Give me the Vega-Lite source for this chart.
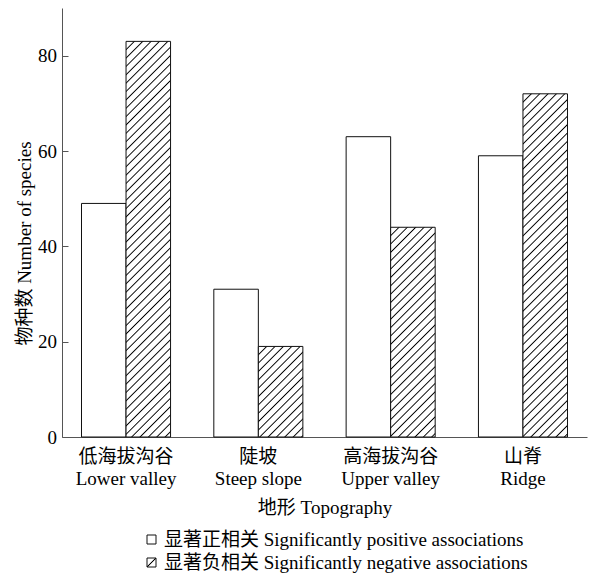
{
  "$schema": "https://vega.github.io/schema/vega-lite/v6.json",
  "width": 525,
  "height": 429,
  "autosize": {"type": "none"},
  "padding": {"left": 62, "top": 8, "right": 7, "bottom": 137},
  "background": "white",
  "params": [
    {"name": "hatch", "value": [
      {"offset":0,"color":"#fff"},
      {"offset":0.016,"color":"#fff"},{"offset":0.019,"color":"#000"},{"offset":0.022,"color":"#fff"},
      {"offset":0.035,"color":"#fff"},{"offset":0.038,"color":"#000"},{"offset":0.041,"color":"#fff"},
      {"offset":0.054,"color":"#fff"},{"offset":0.057,"color":"#000"},{"offset":0.060,"color":"#fff"},
      {"offset":0.073,"color":"#fff"},{"offset":0.076,"color":"#000"},{"offset":0.079,"color":"#fff"},
      {"offset":0.092,"color":"#fff"},{"offset":0.095,"color":"#000"},{"offset":0.098,"color":"#fff"},
      {"offset":0.111,"color":"#fff"},{"offset":0.114,"color":"#000"},{"offset":0.117,"color":"#fff"},
      {"offset":0.130,"color":"#fff"},{"offset":0.133,"color":"#000"},{"offset":0.136,"color":"#fff"},
      {"offset":0.149,"color":"#fff"},{"offset":0.152,"color":"#000"},{"offset":0.155,"color":"#fff"},
      {"offset":0.168,"color":"#fff"},{"offset":0.171,"color":"#000"},{"offset":0.174,"color":"#fff"},
      {"offset":0.187,"color":"#fff"},{"offset":0.190,"color":"#000"},{"offset":0.193,"color":"#fff"},
      {"offset":0.206,"color":"#fff"},{"offset":0.209,"color":"#000"},{"offset":0.212,"color":"#fff"},
      {"offset":0.225,"color":"#fff"},{"offset":0.228,"color":"#000"},{"offset":0.231,"color":"#fff"},
      {"offset":0.244,"color":"#fff"},{"offset":0.247,"color":"#000"},{"offset":0.250,"color":"#fff"},
      {"offset":0.263,"color":"#fff"},{"offset":0.266,"color":"#000"},{"offset":0.269,"color":"#fff"},
      {"offset":0.282,"color":"#fff"},{"offset":0.285,"color":"#000"},{"offset":0.288,"color":"#fff"},
      {"offset":0.301,"color":"#fff"},{"offset":0.304,"color":"#000"},{"offset":0.307,"color":"#fff"},
      {"offset":0.320,"color":"#fff"},{"offset":0.323,"color":"#000"},{"offset":0.326,"color":"#fff"},
      {"offset":0.339,"color":"#fff"},{"offset":0.342,"color":"#000"},{"offset":0.345,"color":"#fff"},
      {"offset":0.358,"color":"#fff"},{"offset":0.361,"color":"#000"},{"offset":0.364,"color":"#fff"},
      {"offset":0.377,"color":"#fff"},{"offset":0.380,"color":"#000"},{"offset":0.383,"color":"#fff"},
      {"offset":0.396,"color":"#fff"},{"offset":0.399,"color":"#000"},{"offset":0.402,"color":"#fff"},
      {"offset":0.415,"color":"#fff"},{"offset":0.418,"color":"#000"},{"offset":0.421,"color":"#fff"},
      {"offset":0.434,"color":"#fff"},{"offset":0.437,"color":"#000"},{"offset":0.440,"color":"#fff"},
      {"offset":0.453,"color":"#fff"},{"offset":0.456,"color":"#000"},{"offset":0.459,"color":"#fff"},
      {"offset":0.472,"color":"#fff"},{"offset":0.475,"color":"#000"},{"offset":0.478,"color":"#fff"},
      {"offset":0.491,"color":"#fff"},{"offset":0.494,"color":"#000"},{"offset":0.497,"color":"#fff"},
      {"offset":0.510,"color":"#fff"},{"offset":0.513,"color":"#000"},{"offset":0.516,"color":"#fff"},
      {"offset":0.529,"color":"#fff"},{"offset":0.532,"color":"#000"},{"offset":0.535,"color":"#fff"},
      {"offset":0.548,"color":"#fff"},{"offset":0.551,"color":"#000"},{"offset":0.554,"color":"#fff"},
      {"offset":0.567,"color":"#fff"},{"offset":0.570,"color":"#000"},{"offset":0.573,"color":"#fff"},
      {"offset":0.586,"color":"#fff"},{"offset":0.589,"color":"#000"},{"offset":0.592,"color":"#fff"},
      {"offset":0.605,"color":"#fff"},{"offset":0.608,"color":"#000"},{"offset":0.611,"color":"#fff"},
      {"offset":0.624,"color":"#fff"},{"offset":0.627,"color":"#000"},{"offset":0.630,"color":"#fff"},
      {"offset":0.643,"color":"#fff"},{"offset":0.646,"color":"#000"},{"offset":0.649,"color":"#fff"},
      {"offset":0.662,"color":"#fff"},{"offset":0.665,"color":"#000"},{"offset":0.668,"color":"#fff"},
      {"offset":0.681,"color":"#fff"},{"offset":0.684,"color":"#000"},{"offset":0.687,"color":"#fff"},
      {"offset":0.700,"color":"#fff"},{"offset":0.703,"color":"#000"},{"offset":0.706,"color":"#fff"},
      {"offset":0.719,"color":"#fff"},{"offset":0.722,"color":"#000"},{"offset":0.725,"color":"#fff"},
      {"offset":0.738,"color":"#fff"},{"offset":0.741,"color":"#000"},{"offset":0.744,"color":"#fff"},
      {"offset":0.757,"color":"#fff"},{"offset":0.760,"color":"#000"},{"offset":0.763,"color":"#fff"},
      {"offset":0.776,"color":"#fff"},{"offset":0.779,"color":"#000"},{"offset":0.782,"color":"#fff"},
      {"offset":0.795,"color":"#fff"},{"offset":0.798,"color":"#000"},{"offset":0.801,"color":"#fff"},
      {"offset":0.814,"color":"#fff"},{"offset":0.817,"color":"#000"},{"offset":0.820,"color":"#fff"},
      {"offset":0.833,"color":"#fff"},{"offset":0.836,"color":"#000"},{"offset":0.839,"color":"#fff"},
      {"offset":0.852,"color":"#fff"},{"offset":0.855,"color":"#000"},{"offset":0.858,"color":"#fff"},
      {"offset":0.871,"color":"#fff"},{"offset":0.874,"color":"#000"},{"offset":0.877,"color":"#fff"},
      {"offset":0.890,"color":"#fff"},{"offset":0.893,"color":"#000"},{"offset":0.896,"color":"#fff"},
      {"offset":0.909,"color":"#fff"},{"offset":0.912,"color":"#000"},{"offset":0.915,"color":"#fff"},
      {"offset":0.928,"color":"#fff"},{"offset":0.931,"color":"#000"},{"offset":0.934,"color":"#fff"},
      {"offset":0.947,"color":"#fff"},{"offset":0.950,"color":"#000"},{"offset":0.953,"color":"#fff"},
      {"offset":0.966,"color":"#fff"},{"offset":0.969,"color":"#000"},{"offset":0.972,"color":"#fff"},
      {"offset":0.985,"color":"#fff"},{"offset":0.988,"color":"#000"},{"offset":0.991,"color":"#fff"},
      {"offset":1,"color":"#fff"}
    ]},
    {"name": "legendHatch", "value": {"gradient": "linear", "x1": 0, "y1": 0, "x2": 1, "y2": 1, "stops": [{"offset": 0, "color": "#fff"}, {"offset": 0.43, "color": "#fff"}, {"offset": 0.5, "color": "#000"}, {"offset": 0.57, "color": "#fff"}, {"offset": 1, "color": "#fff"}]}}
  ],
  "data": {"values": [
    {"topo": "低海拔沟谷|Lower valley", "assoc": "显著正相关 Significantly positive associations", "n": 49},
    {"topo": "低海拔沟谷|Lower valley", "assoc": "显著负相关 Significantly negative associations", "n": 83},
    {"topo": "陡坡|Steep slope", "assoc": "显著正相关 Significantly positive associations", "n": 31},
    {"topo": "陡坡|Steep slope", "assoc": "显著负相关 Significantly negative associations", "n": 19},
    {"topo": "高海拔沟谷|Upper valley", "assoc": "显著正相关 Significantly positive associations", "n": 63},
    {"topo": "高海拔沟谷|Upper valley", "assoc": "显著负相关 Significantly negative associations", "n": 44},
    {"topo": "山脊|Ridge", "assoc": "显著正相关 Significantly positive associations", "n": 59},
    {"topo": "山脊|Ridge", "assoc": "显著负相关 Significantly negative associations", "n": 72}
  ]},
  "mark": {"type": "bar", "stroke": "#111", "strokeWidth": 1},
  "encoding": {
    "x": {
      "field": "topo", "type": "nominal", "sort": null,
      "scale": {"paddingInner": 0.327, "paddingOuter": 0.1475},
      "axis": {
        "title": "地形 Topography",
        "labelExpr": "split(datum.label, '|')",
        "labelAngle": 0,
        "ticks": false,
        "labelPadding": 10,
        "labelLineHeight": 22,
        "titlePadding": 10
      }
    },
    "xOffset": {
      "field": "assoc", "type": "nominal",
      "scale": {"domain": ["显著正相关 Significantly positive associations", "显著负相关 Significantly negative associations"], "paddingInner": 0, "paddingOuter": 0}
    },
    "y": {
      "field": "n", "type": "quantitative", "stack": null,
      "scale": {"domain": [0, 90], "nice": false},
      "axis": {
        "title": "物种数 Number of species",
        "values": [0, 20, 40, 60, 80],
        "grid": false,
        "tickSize": -6,
        "labelPadding": 11.5,
        "titlePadding": 3,
        "titleY": 235
      }
    },
    "fill": {
      "field": "assoc", "type": "nominal",
      "scale": {"domain": ["显著正相关 Significantly positive associations", "显著负相关 Significantly negative associations"], "range": ["#ffffff", {"expr": "legendHatch"}]},
      "condition": {
        "test": "datum.assoc === '显著负相关 Significantly negative associations'",
        "value": {"expr": "{gradient: 'linear', x1: 0, y1: 0, x2: 440 * bandwidth('xOffset') / (pow(bandwidth('xOffset'), 2) + pow(scale('y', 0) - scale('y', datum.n), 2)), y2: 440 * (scale('y', 0) - scale('y', datum.n)) / (pow(bandwidth('xOffset'), 2) + pow(scale('y', 0) - scale('y', datum.n), 2)), stops: hatch}"}
      },
      "legend": {
        "title": null,
        "orient": "none",
        "legendX": 80,
        "legendY": 522,
        "direction": "vertical",
        "symbolType": "square",
        "symbolSize": 81,
        "symbolStrokeColor": "#111",
        "symbolStrokeWidth": 1,
        "labelOffset": 3,
        "rowPadding": 3,
        "labelLimit": 0,
        "padding": 0
      }
    }
  },
  "config": {
    "view": {"stroke": null},
    "font": "Liberation Serif, Noto Sans CJK SC",
    "axis": {
      "domainColor": "#555",
      "tickColor": "#555",
      "domainWidth": 1,
      "labelFont": "Liberation Serif, Noto Sans CJK SC",
      "titleFont": "Liberation Serif, Noto Sans CJK SC",
      "labelFontSize": 19,
      "titleFontSize": 19,
      "titleFontWeight": "normal",
      "labelColor": "#000",
      "titleColor": "#000"
    },
    "legend": {
      "labelFont": "Liberation Serif, Noto Sans CJK SC",
      "labelFontSize": 19,
      "labelColor": "#000"
    }
  }
}
